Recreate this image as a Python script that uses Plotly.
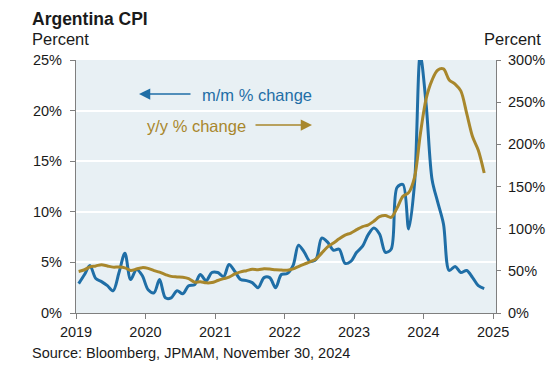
import plotly.graph_objects as go
import pandas as pd

# Monthly data, Jan 2019 - Nov 2024, plotted mid-month
months = pd.date_range("2019-01-01", periods=71, freq="MS") + pd.Timedelta(days=14)

mm_change = [
    2.9, 3.8, 4.7, 3.4, 3.1, 2.7, 2.2, 4.0, 5.9, 3.3, 4.3, 3.7,
    2.3, 2.0, 3.3, 1.5, 1.5, 2.2, 1.9, 2.7, 2.8, 3.8, 3.2, 4.0,
    4.0, 3.6, 4.8, 4.1, 3.3, 3.2, 3.0, 2.5, 3.5, 3.5, 2.5, 3.8,
    3.9, 4.7, 6.7, 6.0, 5.1, 5.3, 7.4, 7.0, 6.2, 6.3, 4.9, 5.1,
    6.0, 6.6, 7.7, 8.4, 7.8, 6.0, 6.3, 12.4, 12.7, 8.3, 12.8, 25.5,
    20.6, 13.2, 11.0, 8.8, 4.2, 4.6, 4.0, 4.2, 3.5, 2.7, 2.4,
]

yy_change = [
    49.3, 51.3, 54.7, 55.8, 57.3, 55.8, 54.4, 54.5, 53.5, 50.5, 52.1, 53.8,
    52.9, 50.3, 48.4, 45.6, 43.4, 42.8, 42.4, 40.7, 36.6, 37.2, 35.8, 36.1,
    38.5, 40.7, 42.6, 46.3, 48.8, 50.2, 51.8, 51.4, 52.5, 52.1, 51.2, 50.9,
    50.7, 52.3, 55.1, 58.0, 60.7, 64.0, 71.0, 78.5, 83.0, 88.0, 92.4, 94.8,
    98.8, 102.5, 104.3, 108.8, 114.2, 115.6, 113.4, 124.4, 138.3, 142.7, 160.9, 211.4,
    254.2, 276.2, 287.9, 289.4, 276.4, 271.5, 263.4, 236.7, 209.0, 193.0, 166.0,
]

x_ticks = ["2019-01-01", "2020-01-01", "2021-01-01", "2022-01-01",
           "2023-01-01", "2024-01-01", "2025-01-01"]
x_tick_labels = ["2019", "2020", "2021", "2022", "2023", "2024", "2025"]
y_left_ticks = [0, 5, 10, 15, 20, 25]
y_left_labels = ["0%", "5%", "10%", "15%", "20%", "25%"]
y_right_ticks = [0, 50, 100, 150, 200, 250, 300]
y_right_labels = ["0%", "50%", "100%", "150%", "200%", "250%", "300%"]

BLUE = "#1f6ea6"
GOLD = "#a8872c"
FONT = "Liberation Sans, Arial, sans-serif"
TXT = "#1a1a1a"
AX = "#7f7f7f"

# page has an 8px body margin; figure is sized so it fills the window
OFF = 8

fig = go.Figure()
fig.add_trace(go.Scatter(x=months, y=mm_change, mode="lines",
                         line=dict(color=BLUE, width=3, shape="spline", smoothing=0.9),
                         yaxis="y", showlegend=False, hoverinfo="skip"))
fig.add_trace(go.Scatter(x=months, y=yy_change, mode="lines",
                         line=dict(color=GOLD, width=3, shape="spline", smoothing=0.9),
                         yaxis="y2", showlegend=False, hoverinfo="skip"))

fig.update_layout(
    width=556 - OFF, height=380 - OFF,
    margin=dict(l=76 - OFF, r=60, t=60 - OFF, b=67, autoexpand=False),
    paper_bgcolor="white", plot_bgcolor="#e8f0f4",
    font=dict(family=FONT, size=14.5, color=TXT),
    xaxis=dict(range=["2019-01-01", "2025-01-16"], tickvals=x_ticks,
               ticktext=x_tick_labels, showgrid=False, zeroline=False,
               showline=True, linecolor=AX, linewidth=1.3,
               ticks="outside", ticklen=5, tickcolor=AX, tickwidth=1.3),
    yaxis=dict(range=[0, 25], tickvals=y_left_ticks, ticktext=y_left_labels,
               showgrid=True, gridcolor="white", gridwidth=1.5, zeroline=False,
               showline=True, linecolor=AX, linewidth=1.3, ticklabelstandoff=5,
               ticks="outside", ticklen=5, tickcolor=AX, tickwidth=1.3),
    yaxis2=dict(range=[0, 300], tickvals=y_right_ticks, ticktext=y_right_labels,
                overlaying="y", side="right", showgrid=False, zeroline=False,
                showline=True, linecolor=AX, linewidth=1.3, ticklabelstandoff=4,
                ticks="outside", ticklen=4, tickcolor=AX, tickwidth=1.3),
)

def px(x):
    return (x - 76) / 420

def py(y):
    return (313 - y) / 253

ann = []
ann.append(dict(text="<b>Argentina CPI</b>", x=px(30), y=py(18.5), xref="paper", yref="paper",
                xanchor="left", yanchor="middle", showarrow=False,
                font=dict(size=17.5, color=TXT, family=FONT)))
ann.append(dict(text="Percent", x=px(30), y=py(39), xref="paper", yref="paper",
                xanchor="left", yanchor="middle", showarrow=False,
                font=dict(size=16.5, color=TXT, family=FONT)))
ann.append(dict(text="Percent", x=px(543), y=py(39), xref="paper", yref="paper",
                xanchor="right", yanchor="middle", showarrow=False,
                font=dict(size=16.5, color=TXT, family=FONT)))
ann.append(dict(text="m/m % change", x=px(200), y=py(95), xref="paper", yref="paper",
                xanchor="left", yanchor="middle", showarrow=False,
                font=dict(size=16.5, color=BLUE, family=FONT)))
ann.append(dict(text="", x=px(139), y=py(94), xref="paper", yref="paper",
                showarrow=True, ax=53, ay=0, axref="pixel", ayref="pixel",
                arrowhead=2, arrowsize=1.5, arrowwidth=1.5, arrowcolor=BLUE, standoff=0))
ann.append(dict(text="y/y % change", x=px(145), y=py(126), xref="paper", yref="paper",
                xanchor="left", yanchor="middle", showarrow=False,
                font=dict(size=16.5, color=GOLD, family=FONT)))
ann.append(dict(text="", x=px(312), y=py(125), xref="paper", yref="paper",
                showarrow=True, ax=-58, ay=0, axref="pixel", ayref="pixel",
                arrowhead=2, arrowsize=1.5, arrowwidth=1.5, arrowcolor=GOLD, standoff=0))
ann.append(dict(text="Source: Bloomberg, JPMAM, November 30, 2024", x=px(30), y=py(353),
                xref="paper", yref="paper", xanchor="left", yanchor="middle",
                showarrow=False, font=dict(size=14.5, color=TXT, family=FONT)))
fig.update_layout(annotations=ann)

fig.write_html("out.html")
